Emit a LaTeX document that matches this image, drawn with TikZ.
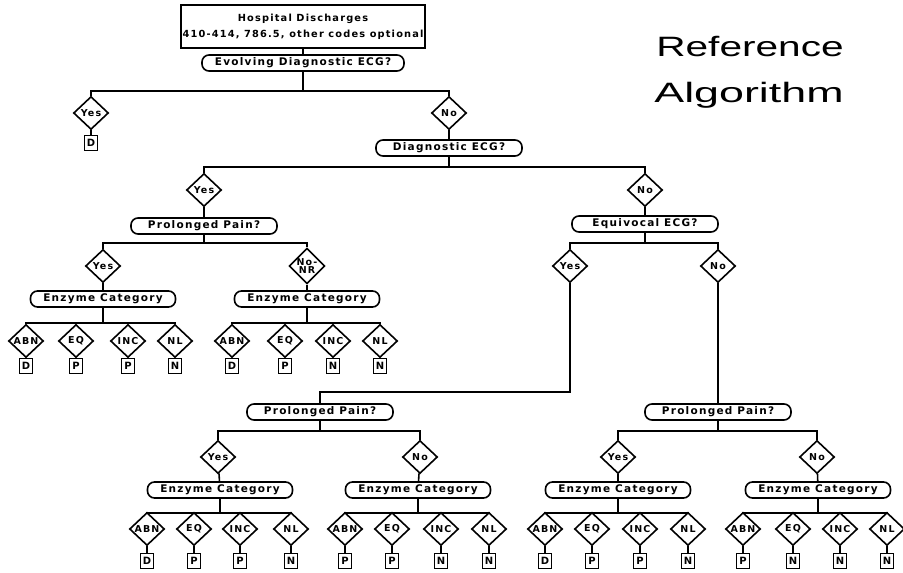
\documentclass[tikz,border=0pt]{standalone}
\usepackage{fontspec}
\usepackage{graphicx}
\newfontfamily\plotfont[LetterSpace=12]{DejaVu Sans}
\newfontfamily\titlefont{Liberation Sans}
\usetikzlibrary{shapes.geometric}

\tikzset{
  box/.style={draw, inner sep=1pt, align=center,
    font=\plotfont\bfseries\fontsize{9.8}{16}\selectfont},
  qbox/.style={draw, rounded corners=7pt, minimum height=16pt,
    minimum width=#1, inner sep=2pt,
    font=\plotfont\bfseries\fontsize{10.5}{11}\selectfont},
  ans/.style={draw, diamond, inner sep=0pt, minimum width=35pt,
    minimum height=33pt, align=center,
    font=\plotfont\bfseries\fontsize{9.5}{9}\selectfont},
  leaf/.style={draw, line width=1.8pt, minimum width=13pt,
    minimum height=15pt, inner sep=0pt,
    font=\plotfont\bfseries\fontsize{10}{10}\selectfont},
  fork/.style={to path={-- (\tikztostart |- 0,#1) -| (\tikztotarget)}},
}

\begin{document}
\begin{tikzpicture}[x=1pt, y=-1pt, line width=1.6pt]
  \useasboundingbox (0,0) rectangle (903,573);

  % title
  \node[font=\titlefont\fontsize{28}{30}\selectfont] (ttl1) at (750,47)
    {\scalebox{1.45}[1]{Reference}};
  \node[font=\titlefont\fontsize{28}{30}\selectfont] (ttl2) at (749,95)
    {\scalebox{1.6}[1]{Algorithm}};

  % upper part
  \node[box, minimum width=244pt, minimum height=43pt] (top) at (303,26.5)
    {Hospital Discharges\\410-414, 786.5, other codes optional};
  \node[qbox=202pt] (ev) at (303,63) {Evolving Diagnostic ECG?};
  \node[ans] (y1) at (91,113) {Yes};
  \node[leaf] (d1) at (91,143) {D};
  \node[ans] (n1) at (449,113) {No};
  \node[qbox=146pt] (dg) at (449,148) {Diagnostic ECG?};
  \node[ans] (y2) at (204,190) {Yes};
  \node[ans] (n2) at (645,190) {No};
  \node[qbox=146pt] (pp1) at (204,226) {Prolonged Pain?};
  \node[qbox=146pt] (eq) at (645,224) {Equivocal ECG?};
  \node[ans] (y3) at (103,266) {Yes};
  \node[ans] (n3) at (307,266) {No-\\[-1pt]NR};
  \node[ans] (y4) at (570,266) {Yes};
  \node[ans] (n4) at (718,266) {No};
  \node[qbox=145pt] (ec1) at (103,299) {Enzyme Category};
  \node[qbox=145pt] (ec2) at (307,299) {Enzyme Category};

  % lower part
  \node[qbox=146pt] (pp2) at (320,412) {Prolonged Pain?};
  \node[qbox=146pt] (pp3) at (718,412) {Prolonged Pain?};
  \node[ans] (y5) at (218,457) {Yes};
  \node[ans] (n5) at (420,457) {No};
  \node[ans] (y6) at (618,457) {Yes};
  \node[ans] (n6) at (817,457) {No};
  \node[qbox=145pt] (ec3) at (220,490) {Enzyme Category};
  \node[qbox=145pt] (ec4) at (418,490) {Enzyme Category};
  \node[qbox=145pt] (ec5) at (618,490) {Enzyme Category};
  \node[qbox=145pt] (ec6) at (818,490) {Enzyme Category};

  \draw (top) -- (ev);
  \draw (ev) to[fork=91] (y1);
  \draw (ev) to[fork=91] (n1);
  \draw (y1) -- (d1);
  \draw (n1) -- (dg);
  \draw (dg) to[fork=167] (y2);
  \draw (dg) to[fork=167] (n2);
  \draw (y2) -- (pp1);
  \draw (n2) -- (eq);
  \draw (pp1) to[fork=243] (y3);
  \draw (pp1) to[fork=243] (n3);
  \draw (eq) to[fork=243] (y4);
  \draw (eq) to[fork=243] (n4);
  \draw (y3) -- (ec1);
  \draw (n3) -- (ec2);
  \draw (y4) to[fork=392] (pp2);
  \draw (n4) -- (pp3);
  \draw (pp2) to[fork=431] (y5);
  \draw (pp2) to[fork=431] (n5);
  \draw (pp3) to[fork=431] (y6);
  \draw (pp3) to[fork=431] (n6);
  \draw (y5) -- (ec3);
  \draw (n5) -- (ec4);
  \draw (y6) -- (ec5);
  \draw (n6) -- (ec6);

  % enzyme answers and results
  \foreach \x/\t/\r [count=\i] in {26/ABN/D, 76/EQ/P, 128/INC/P, 175/NL/N} {
    \node[ans] (a1\i) at (\x,341) {\t};
    \node[leaf] (r1\i) at (\x,366) {\r};
    \draw (ec1) to[fork=323] (a1\i);
    \draw (a1\i) -- (r1\i);
  }
  \foreach \x/\t/\r [count=\i] in {232/ABN/D, 285/EQ/P, 333/INC/N, 380/NL/N} {
    \node[ans] (a2\i) at (\x,341) {\t};
    \node[leaf] (r2\i) at (\x,366) {\r};
    \draw (ec2) to[fork=323] (a2\i);
    \draw (a2\i) -- (r2\i);
  }
  \foreach \x/\t/\r [count=\i] in {147/ABN/D, 194/EQ/P, 240/INC/P, 291/NL/N} {
    \node[ans] (a3\i) at (\x,529) {\t};
    \node[leaf] (r3\i) at (\x,561) {\r};
    \draw (ec3) to[fork=513] (a3\i);
    \draw (a3\i) -- (r3\i);
  }
  \foreach \x/\t/\r [count=\i] in {345/ABN/P, 392/EQ/P, 441/INC/N, 489/NL/N} {
    \node[ans] (a4\i) at (\x,529) {\t};
    \node[leaf] (r4\i) at (\x,561) {\r};
    \draw (ec4) to[fork=513] (a4\i);
    \draw (a4\i) -- (r4\i);
  }
  \foreach \x/\t/\r [count=\i] in {545/ABN/D, 592/EQ/P, 640/INC/P, 688/NL/N} {
    \node[ans] (a5\i) at (\x,529) {\t};
    \node[leaf] (r5\i) at (\x,561) {\r};
    \draw (ec5) to[fork=513] (a5\i);
    \draw (a5\i) -- (r5\i);
  }
  \foreach \x/\t/\r [count=\i] in {743/ABN/P, 793/EQ/N, 840/INC/N, 887/NL/N} {
    \node[ans] (a6\i) at (\x,529) {\t};
    \node[leaf] (r6\i) at (\x,561) {\r};
    \draw (ec6) to[fork=513] (a6\i);
    \draw (a6\i) -- (r6\i);
  }
\end{tikzpicture}
\end{document}
